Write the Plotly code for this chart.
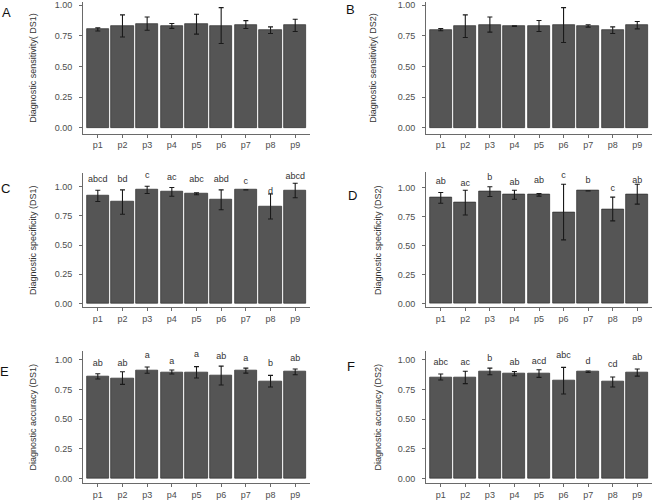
import plotly.graph_objects as go

categories = ["p1", "p2", "p3", "p4", "p5", "p6", "p7", "p8", "p9"]
y_ticks = [0.0, 0.25, 0.5, 0.75, 1.0]

sens_ds1_mean = [0.803, 0.832, 0.851, 0.832, 0.846, 0.835, 0.843, 0.797, 0.836]
sens_ds1_err = [0.013, 0.090, 0.054, 0.020, 0.081, 0.146, 0.032, 0.027, 0.050]

sens_ds2_mean = [0.801, 0.830, 0.843, 0.830, 0.831, 0.839, 0.832, 0.797, 0.838]
sens_ds2_err = [0.009, 0.092, 0.062, 0.003, 0.045, 0.142, 0.010, 0.027, 0.030]

spec_ds1_mean = [0.921, 0.868, 0.972, 0.955, 0.938, 0.887, 0.972, 0.830, 0.966]
spec_ds1_err = [0.048, 0.104, 0.031, 0.037, 0.008, 0.085, 0.0, 0.107, 0.062]
spec_ds1_letters = ["abcd", "bd", "c", "ac", "abc", "abd", "c", "d", "abcd"]
spec_ds1_letter_y = [1.062, 1.062, 1.091, 1.076, 1.057, 1.062, 1.042, 0.960, 1.082]

spec_ds2_mean = [0.911, 0.870, 0.965, 0.938, 0.937, 0.789, 0.971, 0.815, 0.943]
spec_ds2_err = [0.046, 0.107, 0.042, 0.039, 0.011, 0.240, 0.0, 0.102, 0.086]
spec_ds2_letters = ["ab", "ac", "b", "ab", "ab", "c", "b", "c", "ab"]
spec_ds2_letter_y = [1.049, 1.034, 1.086, 1.043, 1.057, 1.100, 1.057, 0.986, 1.063]

acc_ds1_mean = [0.860, 0.846, 0.913, 0.897, 0.894, 0.867, 0.909, 0.820, 0.898]
acc_ds1_err = [0.022, 0.053, 0.026, 0.017, 0.048, 0.080, 0.021, 0.049, 0.024]
acc_ds1_letters = ["ab", "ab", "a", "a", "a", "ab", "a", "b", "ab"]
acc_ds1_letter_y = [0.966, 0.966, 1.034, 0.986, 1.042, 1.028, 1.006, 0.966, 1.006]

acc_ds2_mean = [0.855, 0.851, 0.902, 0.883, 0.884, 0.824, 0.899, 0.813, 0.892]
acc_ds2_err = [0.025, 0.052, 0.028, 0.018, 0.032, 0.112, 0.006, 0.042, 0.030]
acc_ds2_letters = ["abc", "ac", "b", "ab", "acd", "abc", "d", "cd", "ab"]
acc_ds2_letter_y = [0.972, 0.972, 1.006, 0.972, 0.986, 1.034, 0.986, 0.958, 1.014]

W, H = 653, 501
FONT = "Liberation Sans, Arial, sans-serif"

panels = [
    dict(mean=sens_ds1_mean, err=sens_ds1_err, letters=None, ly=None,
         px=(83, 310), py=(0, 132.4), yr=[-0.046, 1.027],
         title="Diagnostic sensitivity( DS1)", tx=33, lab="A", lpos=(6, 11)),
    dict(mean=sens_ds2_mean, err=sens_ds2_err, letters=None, ly=None,
         px=(426, 652), py=(0, 132.4), yr=[-0.046, 1.027],
         title="Diagnostic sensitivity( DS2)", tx=373, lab="B", lpos=(350, 8)),
    dict(mean=spec_ds1_mean, err=spec_ds1_err, letters=spec_ds1_letters, ly=spec_ds1_letter_y,
         px=(83, 310), py=(171.6, 307.3), yr=[-0.034, 1.12],
         title="Diagnostic specificity (DS1)", tx=33, lab="C", lpos=(5, 188)),
    dict(mean=spec_ds2_mean, err=spec_ds2_err, letters=spec_ds2_letters, ly=spec_ds2_letter_y,
         px=(426, 652), py=(171.5, 307.3), yr=[-0.034, 1.13],
         title="Diagnostic specificity (DS2)", tx=378, lab="D", lpos=(352, 195)),
    dict(mean=acc_ds1_mean, err=acc_ds1_err, letters=acc_ds1_letters, ly=acc_ds1_letter_y,
         px=(83, 310), py=(351.6, 484.3), yr=[-0.042, 1.07],
         title="Diagnostic accuracy (DS1)", tx=33, lab="E", lpos=(4, 372)),
    dict(mean=acc_ds2_mean, err=acc_ds2_err, letters=acc_ds2_letters, ly=acc_ds2_letter_y,
         px=(426, 652), py=(351.6, 484.3), yr=[-0.042, 1.07],
         title="Diagnostic accuracy (DS2)", tx=378, lab="F", lpos=(351, 367)),
]

fig = go.Figure()
xpos = list(range(1, len(categories) + 1))
annotations = []
layout = {}

for i, p in enumerate(panels):
    n = "" if i == 0 else str(i + 1)
    xa, ya = "x" + n, "y" + n
    fig.add_trace(go.Bar(
        x=xpos, y=p["mean"], width=0.9, xaxis=xa, yaxis=ya,
        marker=dict(color="#555555", line=dict(color="#2e2e2e", width=0.7)),
        error_y=dict(type="data", array=p["err"], visible=True,
                     color="#1a1a1a", thickness=1.1, width=2.5),
        showlegend=False, hoverinfo="skip",
    ))
    if p["letters"] is not None:
        fig.add_trace(go.Scatter(
            x=xpos, y=p["ly"], text=p["letters"], mode="text",
            textposition="middle center", xaxis=xa, yaxis=ya,
            textfont=dict(size=9, color="#333333", family=FONT),
            showlegend=False, hoverinfo="skip", cliponaxis=False,
        ))
    x0, x1 = p["px"]
    yt, yb = p["py"]
    dom_y = [1 - yb / H, 1 - yt / H]
    axis_common = dict(showline=True, linecolor="#6a6a6a", linewidth=1,
                       ticks="outside", ticklen=3, tickcolor="#6a6a6a",
                       showgrid=False, zeroline=False, ticklabeloverflow="allow",
                       tickfont=dict(size=9, color="#4d4d4d", family=FONT))
    layout["xaxis" + n] = dict(
        domain=[x0 / W, x1 / W], range=[0.4, 9.6], anchor=ya,
        tickvals=xpos, ticktext=categories, **axis_common)
    layout["yaxis" + n] = dict(
        domain=dom_y, range=p["yr"], anchor=xa,
        tickvals=y_ticks, tickformat=".2f", ticklabelstandoff=5, **axis_common)
    annotations.append(dict(
        text=p["title"], textangle=-90, x=p["tx"] / W, y=(dom_y[0] + dom_y[1]) / 2,
        xref="paper", yref="paper", xanchor="center", yanchor="middle",
        showarrow=False, font=dict(size=9, color="#333333", family=FONT)))
    annotations.append(dict(
        text=p["lab"], x=p["lpos"][0] / W, y=1 - p["lpos"][1] / H,
        xref="paper", yref="paper", xanchor="center", yanchor="middle",
        showarrow=False, font=dict(size=13, color="#111111", family=FONT)))

fig.update_layout(
    width=W, height=H, margin=dict(l=0, r=0, t=0, b=0),
    paper_bgcolor="white", plot_bgcolor="white",
    annotations=annotations, bargap=0, **layout)

fig.write_html("out.html", config={"displayModeBar": False},
               post_script="document.body.style.margin='0px';document.body.style.overflow='hidden';")
